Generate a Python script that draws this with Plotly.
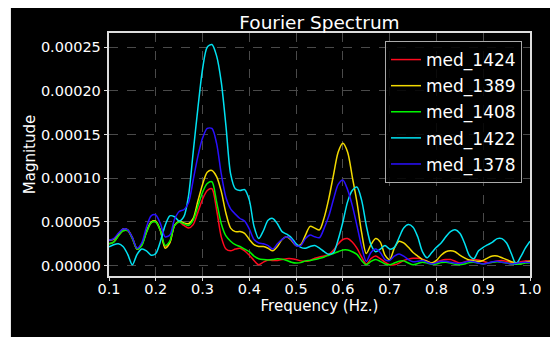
import plotly.graph_objects as go

# Frequency grid (Hz) of the spectrum samples
freq = [round(0.10 + 0.01 * i, 2) for i in range(91)]

SCALE = 1e-5  # values below are magnitudes in units of 1e-5

med_1424 = [2.5, 2.7, 3.4, 4.0, 4.0, 3.1, 1.9, 2.4, 3.8, 4.9,
            5.0, 4.0, 2.2, 2.7, 4.6, 5.0, 4.6, 4.3, 4.7, 6.1,
            7.6, 8.6, 8.8, 6.4, 3.3, 1.9, 1.7, 1.9, 2.0, 1.7,
            1.2, 0.6, 0.1, 0.4, 0.65, 0.6, 0.6, 0.7, 0.8, 0.8,
            0.7, 0.55, 0.5, 0.6, 0.85, 1.0, 1.1, 1.3, 1.8, 2.5,
            3.0, 3.1, 2.7, 2.0, 1.0, 0.2, 0.8, 1.1, 0.8, 0.4,
            0.1, 0.1, 0.3, 0.6, 0.75, 0.85, 0.85, 0.75, 0.5, 0.3,
            0.4, 0.6, 0.7, 0.7, 0.5, 0.3, 0.4, 0.6, 0.7, 0.65,
            0.5, 0.35, 0.4, 0.55, 0.6, 0.5, 0.35, 0.3, 0.45, 0.55,
            0.5]

med_1389 = [2.9, 3.0, 3.6, 4.2, 4.1, 3.2, 1.9, 2.4, 3.9, 5.0,
            5.1, 4.0, 2.0, 2.6, 4.6, 5.1, 4.9, 4.8, 5.4, 7.4,
            9.3, 10.7, 10.9, 10.2, 8.5, 6.0, 4.3, 3.9, 3.9, 3.7,
            3.0, 2.4, 2.2, 2.2, 2.0, 1.7, 2.2, 3.0, 3.3, 2.9,
            2.3, 2.4, 3.5, 4.5, 4.3, 4.1, 5.5, 7.7, 10.4, 13.0,
            14.0, 13.0, 10.2, 7.3, 3.8, 1.4, 2.4, 3.1, 2.7, 1.2,
            0.7, 2.0, 2.8, 2.6, 2.1, 1.5, 1.1, 0.7, 0.5, 0.3,
            0.6, 1.2, 1.6, 1.7, 1.6, 1.2, 0.9, 0.65, 0.55, 0.5,
            0.6, 0.9, 1.1, 1.1, 0.9, 0.7, 0.45, 0.35, 0.2, 0.4,
            0.5]

med_1408 = [2.5, 2.7, 3.4, 4.0, 4.0, 3.1, 1.9, 2.3, 3.8, 4.9,
            5.0, 4.0, 2.3, 2.8, 4.6, 5.0, 4.8, 4.6, 5.2, 6.8,
            8.4, 9.4, 9.6, 7.3, 4.8, 3.4, 2.8, 2.4, 2.2, 1.9,
            1.6, 1.1, 0.8, 0.7, 0.65, 0.7, 0.8, 0.75, 0.6, 0.4,
            0.3, 0.35, 0.55, 0.6, 0.7, 0.85, 1.0, 1.2, 1.4, 1.6,
            1.8, 1.8, 1.6, 1.3, 0.6, 0.1, 0.5, 0.7, 0.5, 0.2,
            0.1, 0.3, 0.5, 0.55, 0.3, 0.1, 0.25, 0.4, 0.3, 0.15,
            0.2, 0.35, 0.4, 0.3, 0.15, 0.1, 0.2, 0.35, 0.4, 0.3,
            0.2, 0.3, 0.4, 0.45, 0.4, 0.3, 0.2, 0.15, 0.2, 0.3,
            0.35]

med_1422 = [2.15, 2.4, 2.5, 2.2, 1.3, 0.1, 1.3, 1.9, 1.7, 1.2,
            1.4, 2.8, 4.6, 5.7, 5.6, 5.1, 5.6, 8.0, 13.0, 18.0,
            22.5, 25.0, 25.3, 24.0, 21.0, 16.0, 10.5, 8.8, 8.6, 8.7,
            7.5, 4.5, 3.1, 4.0, 5.2, 5.4, 4.8, 3.9, 3.6, 3.2,
            2.5, 2.1, 2.0, 2.2, 2.3, 2.0, 1.6, 1.3, 1.5, 3.0,
            5.0, 7.3, 8.6, 9.0, 7.5, 4.6, 2.4, 1.6, 1.9, 2.3,
            1.9, 2.1, 3.2, 4.3, 4.7, 4.4, 3.3, 1.6, 0.9, 1.5,
            2.1, 2.6, 3.3, 3.9, 4.1, 3.7, 2.6, 1.2, 0.8, 1.7,
            2.1, 2.4, 2.7, 3.1, 3.1, 2.6, 1.4, 0.2, 1.0, 2.0,
            2.8]

med_1378 = [2.9, 3.1, 3.7, 4.2, 4.1, 3.2, 2.0, 2.6, 4.4, 5.7,
            5.8, 4.8, 3.3, 3.5, 5.3, 6.2, 6.4, 7.2, 9.8, 12.5,
            14.6, 15.7, 15.7, 14.0, 10.5, 7.8, 6.5, 5.9, 5.4, 5.1,
            4.2, 3.0, 2.6, 2.5, 2.3, 1.9, 2.5, 3.0, 3.3, 3.0,
            2.3, 2.3, 3.1, 3.5, 3.3, 3.2, 4.3, 5.7, 7.6, 9.3,
            9.8, 8.7, 6.9, 4.6, 2.2, 0.5, 1.5, 1.9, 1.5, 0.7,
            0.6, 1.1, 1.35, 1.1, 0.7, 0.45, 0.5, 0.6, 0.4, 0.2,
            0.35, 0.5, 0.5, 0.4, 0.3, 0.25, 0.4, 0.5, 0.45, 0.3,
            0.2, 0.3, 0.45, 0.5, 0.4, 0.3, 0.2, 0.25, 0.35, 0.4,
            0.35]

series_names = ["med_1424", "med_1389", "med_1408", "med_1422", "med_1378"]
series_values = [med_1424, med_1389, med_1408, med_1422, med_1378]
series_colors = ["#ff0a1e", "#f2da00", "#00f500", "#00e2f2", "#2a10ff"]

y_ticks = [0.0, 0.00005, 0.00010, 0.00015, 0.00020, 0.00025]
x_ticks = [0.1, 0.2, 0.3, 0.4, 0.5, 0.6, 0.7, 0.8, 0.9, 1.0]

FONT = "DejaVu Sans"

fig = go.Figure()
for name, vals, col in zip(series_names, series_values, series_colors):
    fig.add_trace(go.Scatter(
        x=freq, y=[v * SCALE for v in vals], mode="lines", name=name,
        legendgroup=name,
        line=dict(color=col, width=1.5, shape="spline", smoothing=0.8),
    ))

# black figure face (matplotlib dark style) on white page
fig.add_shape(type="rect", xref="paper", yref="paper",
              x0=-0.233, x1=1.08, y0=-0.26, y1=1.12,
              fillcolor="black", line=dict(width=0), layer="below")

axis_common = dict(
    showline=True, linecolor="#dddddd", linewidth=1.5, mirror=True,
    ticks="outside", ticklen=3.5, tickwidth=1, tickcolor="#dddddd",
    showgrid=True, gridcolor="#4a4a4a", griddash="dash", gridwidth=1,
    zeroline=False,
    tickfont=dict(family=FONT, size=14.5, color="white"),
)

fig.update_xaxes(range=[0.1, 1.0], tickvals=x_ticks, tickformat=".1f",
                 ticklabelstandoff=-5,
                 title=dict(text="Frequency (Hz.)", standoff=0,
                            font=dict(family=FONT, size=15, color="white")),
                 **axis_common)
fig.update_yaxes(range=[-0.0000118, 0.0002662], tickvals=y_ticks,
                 tickformat=".5f",
                 title=dict(text="Magnitude", standoff=2,
                            font=dict(family=FONT, size=15, color="white")),
                 **axis_common)

# the page body has an 8px margin, so the figure is sized to 550x329
fig.update_layout(
    width=550, height=329, autosize=False,
    margin=dict(l=101, r=28, t=25, b=61),
    paper_bgcolor="white", plot_bgcolor="black",
    font=dict(family=FONT, color="white"),
    title=dict(text="Fourier Spectrum", xref="paper", x=0.5, xanchor="center",
               yref="container", y=1 - 15 / 329, yanchor="middle",
               font=dict(family=FONT, size=18.5, color="white")),
    legend=dict(x=0.981, y=0.967, xanchor="right", yanchor="top",
                bgcolor="rgba(0,0,0,0.85)", bordercolor="#aaaaaa",
                borderwidth=1, font=dict(family=FONT, size=17, color="white"),
                itemwidth=30, tracegroupgap=1),
    showlegend=True,
)

fig.write_html("out.html")
